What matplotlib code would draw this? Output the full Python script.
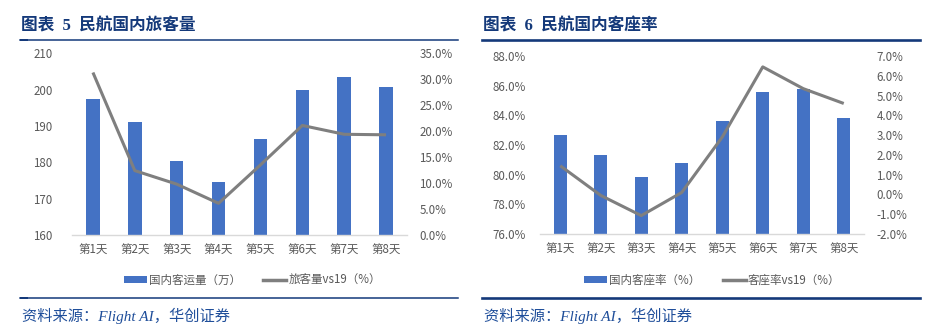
import matplotlib
matplotlib.use("Agg")
import matplotlib.pyplot as plt
from matplotlib.lines import Line2D
from matplotlib.patches import Patch, Rectangle
from matplotlib.ticker import FuncFormatter, MultipleLocator

plt.rcParams['font.family'] = ['Noto Sans CJK SC', 'DejaVu Sans']

# ---- data ----
days = ["第1天", "第2天", "第3天", "第4天", "第5天", "第6天", "第7天", "第8天"]

pax_volume = [197.3, 191.0, 180.3, 174.6, 186.3, 199.8, 203.5, 200.7]      # 万人次
pax_vs19 = [31.3, 12.4, 9.8, 6.1, 13.5, 21.1, 19.4, 19.3]                 # %

load_factor = [82.65, 81.3, 79.85, 80.8, 83.65, 85.55, 85.75, 83.8]       # %
load_vs19 = [1.45, -0.05, -1.07, 0.1, 2.9, 6.45, 5.35, 4.6]               # %

titles = ["图表  5  民航国内旅客量", "图表  6  民航国内客座率"]
bar_labels = ["国内客运量（万）", "国内客座率（%）"]
line_labels = ["旅客量vs19（%）", "客座率vs19（%）"]
source = "资料来源：Flight AI，华创证券"

# ---- style ----
W, H = 939, 335
BAR = "#4472C4"
LINE = "#7F7F7F"
TICK = "#595959"
NAVY = "#14397A"
SRC = "#1F4E9A"
FS = 8.3

fig = plt.figure(figsize=(W / 100, H / 100), dpi=100)


def fx(px):
    return px / W


def fy(py):
    return 1 - py / H


def add_axes(x0, y0, x1, y1):
    return fig.add_axes([fx(x0), fy(y1), fx(x1) - fx(x0), (y1 - y0) / H])


def style(ax):
    for s in ax.spines.values():
        s.set_visible(False)
    ax.tick_params(length=0, labelsize=FS, colors=TICK)


def panel(x0, x1, ax_box, title, bars, line, blabel, llabel,
          ylim, ystep, yfmt, y2lim, y2step, legend_x, lw_rule, ypad, y2pad,
          notch):
    ax = add_axes(*ax_box)
    x = list(range(len(days)))
    ax.bar(x, bars, width=0.32, color=BAR, zorder=2)
    ax.set_xlim(-0.5, len(days) - 0.5)
    ax.set_ylim(*ylim)
    ax.yaxis.set_major_locator(MultipleLocator(ystep))
    ax.yaxis.set_major_formatter(FuncFormatter(yfmt))
    ax.set_xticks(x)
    ax.set_xticklabels(days)
    style(ax)
    ax.tick_params(axis='x', pad=6)
    ax.tick_params(axis='y', pad=ypad)
    ax.axhline(ylim[0], color="#D9D9D9", lw=1.0, zorder=3, clip_on=False)

    ax2 = ax.twinx()
    ax2.plot(x, line, color=LINE, lw=2.2, zorder=4, solid_capstyle='butt')
    ax2.set_ylim(*y2lim)
    ax2.yaxis.set_major_locator(MultipleLocator(y2step))
    ax2.yaxis.set_major_formatter(FuncFormatter(lambda v, p: f"{v:.1f}%"))
    style(ax2)
    ax2.tick_params(axis='y', pad=y2pad)

    handles = [Patch(facecolor=BAR, edgecolor='none'),
               Line2D([], [], color=LINE, lw=2.5)]
    fig.legend(handles, [blabel, llabel], ncol=2, frameon=False,
               loc='center left', bbox_to_anchor=(fx(legend_x), fy(280)),
               fontsize=FS, labelcolor=TICK, handlelength=2.0,
               handleheight=0.55, handletextpad=0.2, columnspacing=1.9,
               borderaxespad=0, borderpad=0)

    # title and rules
    fig.text(fx(x0 + 1), fy(26.5), title, fontsize=12, fontweight='bold',
             family=['Liberation Serif', 'Noto Sans CJK SC'],
             color=NAVY, va='center', ha='left')
    for yy in (40, 298):
        fig.add_artist(Line2D([fx(x0), fx(x1)], [fy(yy), fy(yy)],
                              color=NAVY, lw=lw_rule))
        if notch:
            fig.add_artist(Rectangle((fx(x0), fy(yy + 1.3)), fx(8), 2.6 / H,
                                     color=NAVY, lw=0))
    fig.text(fx(x0 + 2), fy(316), source, fontsize=11, style='italic',
             family=['Liberation Serif', 'Noto Sans CJK SC'],
             color=SRC, va='center', ha='left')
    return ax, ax2


panel(20, 458, (72, 53.3, 407, 235), titles[0], pax_volume, pax_vs19,
      bar_labels[0], line_labels[0], (160, 210), 10,
      lambda v, p: f"{v:.0f}", (0, 35), 5, 124, 1.1, 14, 9, True)

panel(482, 920, (540, 56, 864, 234), titles[1], load_factor, load_vs19,
      bar_labels[1], line_labels[1], (76, 88), 2,
      lambda v, p: f"{v:.1f}%", (-2, 7), 1, 584, 1.9, 10, 9, False)

fig.savefig("out.png", dpi=100)
